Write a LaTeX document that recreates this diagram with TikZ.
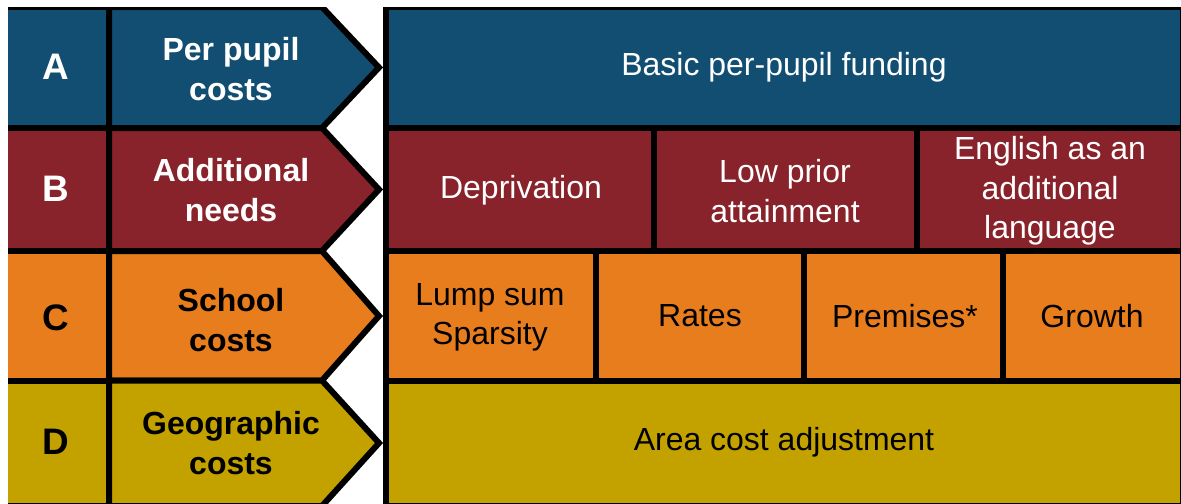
\documentclass[tikz,border=0pt]{standalone}
\usepackage{fontspec}
\setmainfont{Liberation Sans}
\definecolor{rowA}{RGB}{18,78,114}
\definecolor{rowB}{RGB}{137,35,43}
\definecolor{rowC}{RGB}{232,125,30}
\definecolor{rowD}{RGB}{195,162,0}
\tikzset{
	cell/.style={draw=black, line width=0.12cm},
	txt/.style={align=center, inner sep=0pt, font=\fontsize{18.2}{22.4}\selectfont},
	head/.style={txt, font=\fontsize{18.2}{22.4}\selectfont\bfseries},
	letter/.style={txt, font=\fontsize{21}{24}\selectfont\bfseries},
}
\begin{document}
\begin{tikzpicture}[x=0.02cm, y=-0.02cm]
		\useasboundingbox (0,0) rectangle (1181,504);
		\clip (8,7) rectangle (1181,504);
		
		% row A
		\draw [cell, fill=rowA] (5,7) rectangle (109,128);
		\draw [cell, fill=rowA] (109,7) -- (322,7) -- (379,67.5) -- (322,128) -- (109,128) -- cycle;
		\draw [cell, fill=rowA] (386,7) rectangle (1183,128);
		
		% row B
		\draw [cell, fill=rowB] (5,128) rectangle (109,251);
		\draw [cell, fill=rowB] (109,128) -- (322,128) -- (379,189.5) -- (322,251) -- (109,251) -- cycle;
		\draw [cell, fill=rowB] (386,128) rectangle (654,251);
		\draw [cell, fill=rowB] (654,128) rectangle (917,251);
		\draw [cell, fill=rowB] (917,128) rectangle (1183,251);
		
		% row C
		\draw [cell, fill=rowC] (5,251) rectangle (109,380.5);
		\draw [cell, fill=rowC] (109,251) -- (322,251) -- (379,316) -- (322,380.5) -- (109,380.5) -- cycle;
		\draw [cell, fill=rowC] (386,251) rectangle (596,380.5);
		\draw [cell, fill=rowC] (596,251) rectangle (804,380.5);
		\draw [cell, fill=rowC] (804,251) rectangle (1003,380.5);
		\draw [cell, fill=rowC] (1003,251) rectangle (1183,380.5);
		
		% row D
		\draw [cell, fill=rowD] (5,380.5) rectangle (109,506);
		\draw [cell, fill=rowD] (109,380.5) -- (322,380.5) -- (379,443) -- (322,506) -- (109,506) -- cycle;
		\draw [cell, fill=rowD] (386,380.5) rectangle (1183,506);
		
		\node [letter, text=white] (letA) at (56,67) {A};
		\node [letter, text=white] (letB) at (56,189) {B};
		\node [letter] (letC) at (56,318) {C};
		\node [letter] (letD) at (56,442) {D};
		
		\node [head, text=white] (perpupil) at (231,69) {Per pupil\\costs};
		\node [head, text=white] (addneeds) at (231,190) {Additional\\needs};
		\node [head] (school) at (231,320) {School\\costs};
		\node [head] (geo) at (231,443) {Geographic\\costs};
		
		\node [txt, text=white] (basic) at (784,67) {Basic per-pupil\ funding};
		\node [txt, text=white] (depriv) at (521,190) {Deprivation};
		\node [txt, text=white] (lowprior) at (785,191) {Low prior\\attainment};
		\node [txt, text=white] (eal) at (1050,191) {English\ as an\\additional\\language};
		\node [txt] (lump) at (490,317) {Lump sum\\Sparsity};
		\node [txt] (rates) at (700,316) {Rates};
		\node [txt] (premises) at (905,316) {Premises*};
		\node [txt] (growth) at (1092,316) {Growth};
		\node [txt] (area) at (784,442) {Area cost adjustment};
	\end{tikzpicture}
\end{document}
